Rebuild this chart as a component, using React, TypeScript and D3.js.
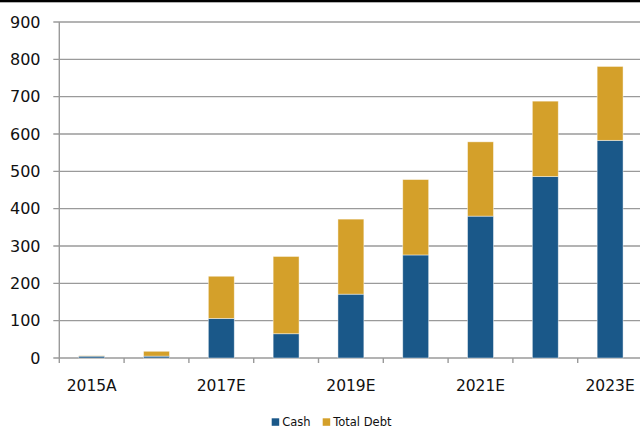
import React from "react";
import * as d3 from "d3";

const categories = ["2015A", "2016E", "2017E", "2018E", "2019E", "2020E", "2021E", "2022E", "2023E"];
const cash = [5, 5, 106, 65, 171, 276, 380, 486, 583];
const totalDebt = [1, 13, 113, 207, 201, 202, 199, 202, 198];
const yTicks = [0, 100, 200, 300, 400, 500, 600, 700, 800, 900];
const shownLabels = ["2015A", "2017E", "2019E", "2021E", "2023E"];
const seriesNames = ["Cash", "Total Debt"];
const colors = ["#1a5889", "#d4a02a"];

export default function App() {
  const W = 640, H = 429;
  const left = 59.3, right = 642.5, top = 22, bottom = 358;
  const x = d3.scaleBand<string>().domain(categories).range([left, right]).paddingInner(0.6).paddingOuter(0.3);
  const y = d3.scaleLinear().domain([0, 900]).range([bottom, top]);
  const step = x.step();
  const font = "'DejaVu Sans', sans-serif";
  const stacked = categories.map((c, i) => ({ c, segs: [[0, cash[i]], [cash[i], cash[i] + totalDebt[i]]] }));
  return (
    <svg width={W} height={H} style={{ position: "absolute", left: 0, top: 0, background: "#fff" }}>
      <rect x={0} y={0} width={W} height={2.3} fill="#000" />
      {yTicks.map((t) => (
        <g key={t}>
          <line x1={left - 6} x2={W} y1={y(t)} y2={y(t)} stroke="#9a9a9a" strokeWidth={1.4} />
          <text x={40.5} y={y(t)} dy="0.36em" textAnchor="end" fontFamily={font} fontSize={16} fill="#111">{t}</text>
        </g>
      ))}
      <line x1={left} x2={left} y1={top} y2={bottom + 5} stroke="#9a9a9a" strokeWidth={1.4} />
      {categories.map((c, i) => (
        <line key={c} x1={left + step * (i + 1)} x2={left + step * (i + 1)} y1={bottom} y2={bottom + 5} stroke="#9a9a9a" strokeWidth={1.4} />
      ))}
      {stacked.map((d) => d.segs.map((s, j) => (
        <rect key={d.c + j} x={x(d.c)} width={x.bandwidth()} y={y(s[1])} height={y(s[0]) - y(s[1])}
          fill={colors[j]} stroke="rgba(255,255,255,0.55)" strokeWidth={0.8} />
      )))}
      {categories.filter((c) => shownLabels.includes(c)).map((c) => (
        <text key={c} x={(x(c) as number) + x.bandwidth() / 2} y={390.5} textAnchor="middle" fontFamily={font} fontSize={15.5} fill="#111">{c}</text>
      ))}
      {seriesNames.map((n, i) => {
        const lx = i === 0 ? 271.7 : 322.7;
        return (
          <g key={n}>
            <rect x={lx} y={418.3} width={7.5} height={7.5} fill={colors[i]} />
            <text x={lx + 10.5} y={425.7} fontFamily={font} fontSize={11.5} fill="#111">{n}</text>
          </g>
        );
      })}
    </svg>
  );
}
